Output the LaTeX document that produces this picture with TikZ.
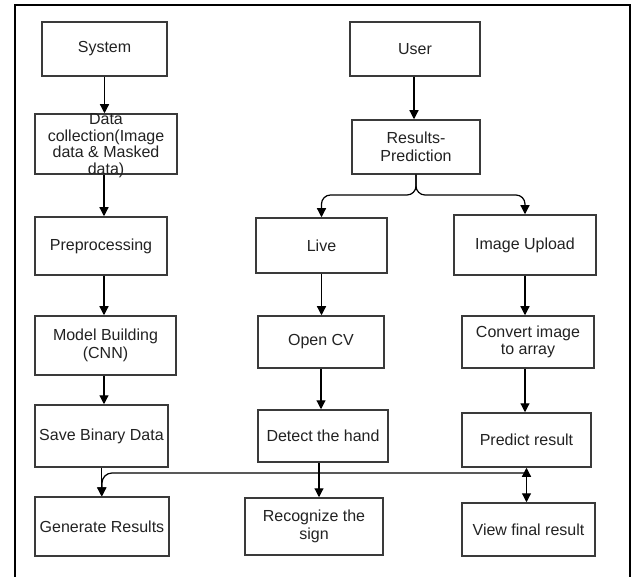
\documentclass[tikz,border=0pt]{standalone}
\usepackage{fontspec}
\setmainfont{Liberation Sans}
\usetikzlibrary{arrows.meta}
\definecolor{edge}{HTML}{3A3A3A}
\definecolor{txt}{HTML}{222222}
\tikzset{
  box/.style={draw=edge, line width=1.5pt, rectangle, inner sep=1pt, align=center,
    text=txt, font=\fontsize{16}{17.5}\selectfont},
  lbl/.style={inner sep=0pt, align=center, text=txt, font=\fontsize{16}{16.5}\selectfont},
  arr/.style={draw=black, line width=1.2pt, -{Triangle[length=9pt,width=9pt]}},
  darr/.style={draw=black, line width=1.2pt, {Triangle[length=9pt,width=9pt]}-{Triangle[length=9pt,width=9pt]}},
  wire/.style={draw=black, line width=1.2pt}
}
\begin{document}
\begin{tikzpicture}[x=1pt,y=-1pt]
\useasboundingbox (0,0) rectangle (632,577);
\fill[white] (0,0) rectangle (632,577);
% frame (open at the bottom)
\draw[line width=2.2pt] (15,577) -- (15,5) -- (630,5) -- (630,577);

% left column
\node[box, minimum width=125pt, minimum height=54pt] (sys) at (104.5,49) {System};
\node[box, minimum width=142pt, minimum height=60pt] (dc) at (106,144) {};
\node[lbl] (dctext) at (106,145.5) {Data\\collection(Image\\data \& Masked\\data)};
\node[box, minimum width=132pt, minimum height=58pt] (pre) at (101,246) {Preprocessing};
\node[box, minimum width=141pt, minimum height=59pt] (mb) at (105.5,345.5) {Model Building\\(CNN)};
\node[box, minimum width=133pt, minimum height=62pt, inner sep=0pt] (sbd) at (101.5,436) {Save Binary Data};
\node[box, minimum width=134pt, minimum height=59pt, inner sep=0pt] (gr) at (102,526.5) {Generate Results};

% middle / right columns
\node[box, minimum width=130pt, minimum height=54pt] (user) at (415,49) {User};
\node[box, minimum width=128pt, minimum height=54pt] (rp) at (416,147) {Results-\\Prediction};
\node[box, minimum width=131pt, minimum height=55pt] (live) at (321.5,245.5) {Live};
\node[box, minimum width=142pt, minimum height=60pt] (iu) at (525,245) {Image Upload};
\node[box, minimum width=126pt, minimum height=52pt] (ocv) at (321,342) {Open CV};
\node[box, minimum width=132pt, minimum height=52pt] (conv) at (528,342) {Convert image\\to array};
\node[box, minimum width=130pt, minimum height=52pt] (dth) at (323,436) {Detect the hand};
\node[box, minimum width=129pt, minimum height=54pt] (pr) at (526.5,440) {Predict result};
\node[box, minimum width=138pt, minimum height=57pt] (rs) at (314,526.5) {Recognize the\\sign};
\node[box, minimum width=133pt, minimum height=53pt, inner sep=0pt] (vf) at (528.5,529.5) {View final result};

% left column arrows
\draw[arr] (sys.south) -- (sys.south |- dc.north);
\draw[arr] ([xshift=-2pt]dc.south) -- ([xshift=-2pt]dc.south |- pre.north);
\draw[arr] ([xshift=3pt]pre.south) -- ([xshift=3pt]pre.south |- mb.north);
\draw[arr] ([xshift=-1.5pt]mb.south) -- ([xshift=-1.5pt]mb.south |- sbd.north);
\draw[arr] (sbd.south) -- (sbd.south |- gr.north);

% user branch
\draw[arr] ([xshift=-1pt]user.south) -- ([xshift=-1pt]user.south |- rp.north);
\coordinate (split) at (416,195);
\draw[arr, rounded corners=9pt] (rp.south) -- (split) -| (live.north);
\draw[arr, rounded corners=9pt] (rp.south) -- (split) -| (iu.north);
\draw[arr] (live.south) -- (live.south |- ocv.north);
\draw[arr] (ocv.south) -- (ocv.south |- dth.north);
\draw[arr] (iu.south) -- (iu.south |- conv.north);
\draw[arr] ([xshift=-3pt]conv.south) -- ([xshift=-3pt]conv.south |- pr.north);
\draw[arr] ([xshift=-4pt]dth.south) -- ([xshift=-4pt]dth.south |- rs.north);

% bottom junction
\coordinate (j) at (526,473);
\draw[darr] (pr.south) -- (pr.south |- vf.north);
\draw[arr, rounded corners=10pt] (j) -| (gr.north);
\end{tikzpicture}
\end{document}
